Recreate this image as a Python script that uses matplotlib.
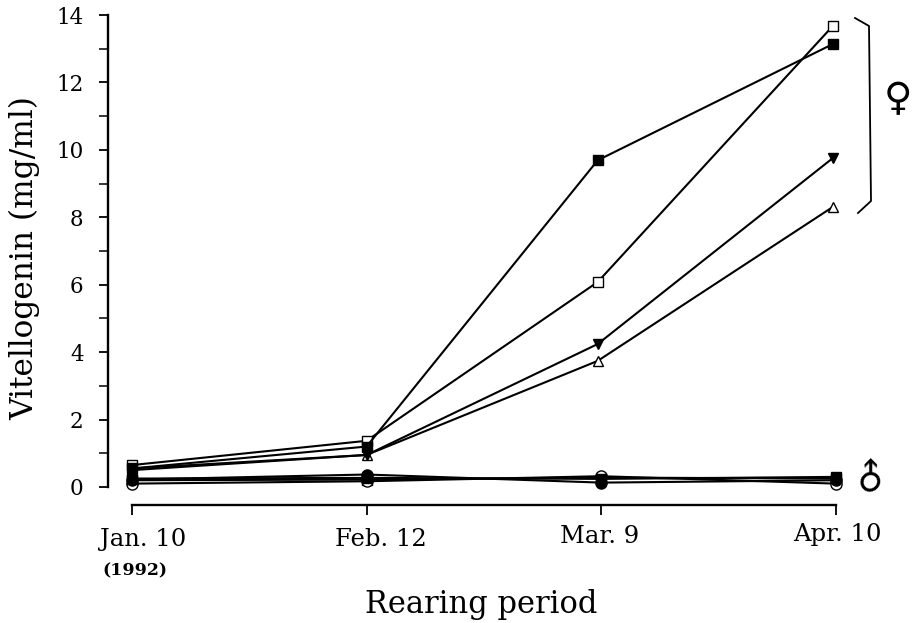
import matplotlib
matplotlib.use("Agg")
import matplotlib.pyplot as plt
from matplotlib.transforms import ScaledTranslation

W, H = 915, 623
categories = ["Jan. 10", "Feb. 12", "Mar. 9", "Apr. 10"]
x = [0, 1, 2, 3]
x_female = [0, 1, 1.985, 2.988]
female_filled_square = [0.55, 1.20, 9.69, 13.14]
female_open_square = [0.65, 1.37, 6.08, 13.68]
female_filled_triangle = [0.50, 0.95, 4.24, 9.76]
female_open_triangle = [0.55, 0.95, 3.74, 8.31]
male_open_circle = [0.10, 0.17, 0.32, 0.10]
male_open_square = [0.20, 0.22, 0.28, 0.25]
male_filled_circle = [0.22, 0.37, 0.13, 0.20]
male_filled_square = [0.25, 0.27, 0.24, 0.30]
yticks = list(range(0, 15, 2))
yminor = list(range(1, 14, 2))

PXY = 33.7
PXX = 234.6
plt.rcParams["font.family"] = ["DejaVu Serif"]
fig = plt.figure(figsize=(W / 100, H / 100), dpi=100)
def px(l, t, r, b):
    return [l / W, 1 - b / H, (r - l) / W, (b - t) / H]
ax = fig.add_axes(px(108, 15, 850, 505))
ax.set_xlim((108 - 132) / PXX, (850 - 132) / PXX)
ax.set_ylim(-18 / PXY, 14)

def series(xs, v, m, fc, s=7, ec="k"):
    ax.plot(xs, v, "-", color="k", lw=1.5, marker=m, mfc=fc, mec=ec, mew=1.0, ms=s, clip_on=False, zorder=3)

series(x, male_open_square, "s", "w", 7)
series(x, male_open_circle, "o", "w", 8)
series(x, male_filled_circle, "o", "k", 8)
series(x, male_filled_square, "s", "k", 7)
series(x_female, female_open_triangle, "^", "w", 7.5)
series(x_female, female_filled_triangle, "v", "k", 7.5)
series(x_female, female_open_square, "s", "w", 7)
series(x_female, female_filled_square, "s", "k", 7)

for s in ("top", "right"):
    ax.spines[s].set_visible(False)
for s in ("left", "bottom"):
    ax.spines[s].set_linewidth(1.7)
ax.spines["left"].set_bounds(0, 14)
ax.spines["bottom"].set_bounds(0, 3)

ax.set_yticks(yticks)
ax.set_yticks(yminor, minor=True)
ax.tick_params(axis="y", which="major", length=6.5, width=1.3, labelsize=15.5, pad=11)
ax.tick_params(axis="y", which="minor", length=6.5, width=1.1)
ax.set_xticks(x)
ax.set_xticklabels(categories)
ax.tick_params(axis="x", length=7, width=1.3, labelsize=17.5, pad=8)

label_dx = [11, 14, -2, 2]
label_dy = [-2, -2, 1, 3]
for lab, dx, dy in zip(ax.get_xticklabels(), label_dx, label_dy):
    lab.set_transform(lab.get_transform() + ScaledTranslation(dx / 100, dy / 100, fig.dpi_scale_trans))

fig.text(135 / W, 1 - 571 / H, "(1992)", ha="center", va="center", fontsize=12.5, fontweight="bold")
fig.text(25 / W, 1 - 258 / H, "Vitellogenin (mg/ml)", rotation=90, ha="center", va="center", fontsize=22.5)
fig.text(481 / W, 1 - 604 / H, "Rearing period", ha="center", va="center", fontsize=22)

bx = [855, 869, 871, 858]
by = [18, 26, 201, 213]
fig.add_artist(plt.Line2D([a / W for a in bx], [1 - b / H for b in by], color="k", lw=1.3))
fig.text(898 / W, 1 - 99 / H, "\u2640", family="DejaVu Sans", ha="center", va="center", fontsize=28, fontweight="bold")
fig.text(871 / W, 1 - 477 / H, "\u2642", family="DejaVu Sans", ha="center", va="center", fontsize=26, rotation=45, fontweight="bold")

fig.savefig("out.png", dpi=100)
